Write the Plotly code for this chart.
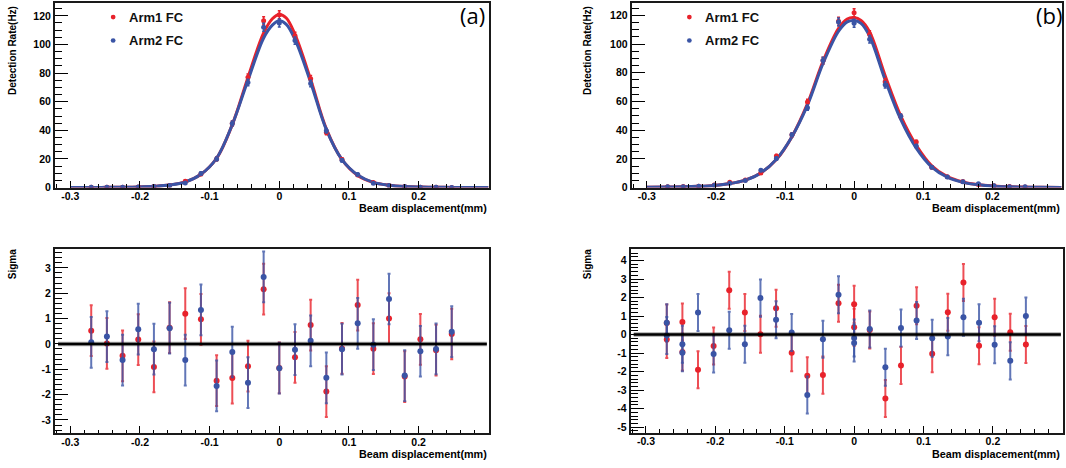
import plotly.graph_objects as go

# ---------------- data ----------------
x_pos = [-0.27, -0.2475, -0.225, -0.2025, -0.18, -0.1575, -0.135, -0.1125, -0.09, -0.0675,
         -0.045, -0.0225, 0.0, 0.0225, 0.045, 0.0675, 0.09, 0.1125, 0.135, 0.1575,
         0.18, 0.2025, 0.225, 0.2475]

# (a) detection rate
rate_a_arm1 = [0.3, 0.3, 0.3, 0.4, 0.8, 1.5, 4.4, 9.5, 20.0, 44.8, 77.0, 116.5, 120.7, 106.0,
               76.0, 38.5, 19.6, 8.8, 3.5, 1.5, 0.7, 0.3, 0.2, 0.1]
rate_a_arm2 = [0.3, 0.3, 0.3, 0.4, 0.8, 1.5, 3.2, 9.8, 20.0, 44.8, 73.4, 112.0, 115.0, 102.7,
               72.7, 39.7, 19.0, 9.2, 3.0, 1.5, 0.7, 0.3, 0.2, 0.1]
# (b) detection rate
rate_b_arm1 = [0.5, 0.7, 1.0, 1.8, 3.7, 5.3, 10.2, 22.0, 36.8, 59.7, 88.5, 116.0, 121.8, 106.8,
               73.8, 49.7, 31.7, 14.1, 7.6, 4.2, 2.2, 1.2, 0.7, 0.4]
rate_b_arm2 = [0.5, 0.6, 0.9, 1.6, 3.0, 5.0, 12.0, 20.3, 36.8, 55.7, 88.5, 115.4, 114.5, 103.4,
               71.7, 49.7, 28.9, 14.1, 7.4, 4.1, 2.6, 1.2, 0.6, 0.5]
rate_err = [0.3, 0.3, 0.3, 0.3, 0.4, 0.5, 0.8, 1.0, 1.3, 1.8, 2.3, 2.8, 2.8, 2.6,
            2.3, 1.6, 1.2, 0.8, 0.5, 0.4, 0.3, 0.3, 0.3, 0.3]

# fitted curves
fit_x = [-0.30, -0.27, -0.2475, -0.225, -0.2025, -0.18, -0.1575, -0.135, -0.1125, -0.09,
         -0.0675, -0.045, -0.0225, -0.01, 0.0, 0.01, 0.0225, 0.045, 0.0675, 0.09,
         0.1125, 0.135, 0.1575, 0.18, 0.2025, 0.225, 0.2475, 0.27, 0.30]
fit_a_arm1 = [0.05, 0.1, 0.15, 0.25, 0.45, 0.9, 1.8, 4.0, 9.3, 20.5, 44.0, 77.0, 108.0, 118.0,
              121.0, 118.5, 107.0, 75.5, 41.0, 19.5, 8.5, 3.6, 1.6, 0.7, 0.35, 0.2, 0.1, 0.05, 0.02]
fit_a_arm2 = [0.05, 0.1, 0.15, 0.25, 0.45, 0.9, 1.8, 3.9, 9.3, 20.5, 44.0, 75.0, 104.5, 113.5,
              116.5, 114.0, 103.5, 73.5, 40.5, 19.5, 8.8, 3.6, 1.6, 0.7, 0.35, 0.2, 0.1, 0.05, 0.02]
fit_b_arm1 = [0.2, 0.35, 0.5, 0.85, 1.5, 2.8, 5.2, 10.2, 19.5, 35.5, 58.5, 88.0, 111.0, 117.5,
              118.5, 116.5, 108.5, 78.0, 50.0, 29.5, 15.2, 7.6, 3.9, 2.0, 1.1, 0.6, 0.35, 0.2, 0.1]
fit_b_arm2 = [0.2, 0.35, 0.5, 0.85, 1.5, 2.8, 5.2, 10.2, 19.8, 35.5, 57.5, 86.5, 109.0, 115.5,
              116.5, 114.5, 105.5, 75.0, 47.5, 27.5, 14.3, 7.2, 3.6, 1.9, 1.0, 0.55, 0.3, 0.2, 0.1]

# (a) residuals (sigma)
sig_a_arm1 = [0.52, 0.02, -0.47, 0.17, -0.91, 0.64, 1.19, 0.97, -1.45, -1.35, -0.88, 2.16,
              -0.95, -0.53, 0.74, -1.88, -0.18, 1.53, -0.19, 1.0, -1.29, 0.18, -0.25, 0.39]
sig_a_arm2 = [0.06, 0.29, -0.64, 0.58, -0.21, 0.62, -0.64, 1.34, -1.66, -0.32, -1.53, 2.64,
              -0.96, -0.23, 0.12, -1.34, -0.21, 0.81, -0.03, 1.77, -1.25, -0.29, -0.2, 0.48]

# (b) residuals (sigma); some positions were measured twice
sig_b_x_arm1 = [-0.27, -0.27, -0.2475, -0.2475, -0.225, -0.2025, -0.18, -0.1575, -0.135, -0.1125,
                -0.09, -0.0675, -0.045, -0.0225, 0.0, 0.0, 0.0225, 0.045, 0.0675, 0.09,
                0.1125, 0.135, 0.1575, 0.18, 0.2025, 0.225, 0.2475]
sig_b_arm1 = [0.62, -0.27, 0.68, -0.94, -1.9, -0.62, 2.4, 1.19, 0.02, 1.42,
              -0.98, -2.22, -2.19, 1.69, 1.64, 0.39, 0.25, -3.45, -1.67, 1.56,
              -1.03, 1.21, 2.81, -0.6, 0.94, 0.12, -0.53]
sig_b_x_arm2 = [-0.27, -0.27, -0.2475, -0.2475, -0.225, -0.2025, -0.18, -0.1575, -0.135, -0.1125,
                -0.09, -0.0675, -0.045, -0.0225, 0.0, 0.0, 0.0225, 0.045, 0.0675, 0.09,
                0.1125, 0.135, 0.1575, 0.18, 0.2025, 0.225, 0.2475]
sig_b_arm2 = [0.64, -0.05, -0.52, -0.98, 1.19, -1.05, 0.23, -0.52, 1.97, 0.8,
              0.11, -3.27, -0.25, 2.15, -0.18, -0.46, 0.3, -1.76, 0.36, 0.76,
              -0.2, -0.11, 0.94, 0.64, -0.55, -1.42, 1.01]

x_tickvals = [-0.3, -0.2, -0.1, 0.0, 0.1, 0.2]
x_ticktext = ["-0.3", "-0.2", "-0.1", "0", "0.1", "0.2"]
rate_tickvals = [0, 20, 40, 60, 80, 100, 120]
sig_a_tickvals = [-3, -2, -1, 0, 1, 2, 3]
sig_b_tickvals = [-5, -4, -3, -2, -1, 0, 1, 2, 3, 4]

legend_names = ["Arm1 FC", "Arm2 FC"]
panel_labels = ["(a)", "(b)"]

# ---------------- style ----------------
RED = "#e8222b"
BLUE = "#3a54a5"
RED_T = "rgba(232,34,43,0.8)"
BLUE_T = "rgba(58,84,165,0.8)"
FONT = "Liberation Sans, Arial, sans-serif"

fig = go.Figure()


def add_rate(xa, ya, fx, f1, f2, d1, d2):
    fig.add_trace(go.Scatter(x=fx, y=f1, mode="lines", line=dict(color=RED, width=3, shape="spline"),
                             xaxis=xa, yaxis=ya, showlegend=False, hoverinfo="skip"))
    fig.add_trace(go.Scatter(x=fx, y=f2, mode="lines", line=dict(color=BLUE, width=3, shape="spline"),
                             xaxis=xa, yaxis=ya, showlegend=False, hoverinfo="skip"))
    fig.add_trace(go.Scatter(x=x_pos, y=d1, mode="markers", marker=dict(color=RED, size=5),
                             error_y=dict(type="data", array=rate_err, color=RED, thickness=1.5, width=1.5),
                             xaxis=xa, yaxis=ya, showlegend=False))
    fig.add_trace(go.Scatter(x=x_pos, y=d2, mode="markers", marker=dict(color=BLUE, size=5),
                             error_y=dict(type="data", array=rate_err, color=BLUE, thickness=1.5, width=1.5),
                             xaxis=xa, yaxis=ya, showlegend=False))


def add_sig(xa, ya, x1, s1, x2, s2):
    fig.add_trace(go.Scatter(x=x1, y=s1, mode="markers", marker=dict(color=RED, size=6),
                             error_y=dict(type="constant", value=1, color=RED_T, thickness=2, width=1.5),
                             xaxis=xa, yaxis=ya, showlegend=False))
    fig.add_trace(go.Scatter(x=x2, y=s2, mode="markers", marker=dict(color=BLUE, size=6),
                             error_y=dict(type="constant", value=1, color=BLUE_T, thickness=2, width=1.5),
                             xaxis=xa, yaxis=ya, showlegend=False))


add_rate("x", "y", fit_x, fit_a_arm1, fit_a_arm2, rate_a_arm1, rate_a_arm2)
add_rate("x2", "y2", fit_x, fit_b_arm1, fit_b_arm2, rate_b_arm1, rate_b_arm2)
add_sig("x3", "y3", x_pos, sig_a_arm1, x_pos, sig_a_arm2)
add_sig("x4", "y4", sig_b_x_arm1, sig_b_arm1, sig_b_x_arm2, sig_b_arm2)

tickfont = dict(family=FONT, size=10.5, color="black", weight="bold")


def xaxis_style(domain, anchor):
    return dict(domain=domain, anchor=anchor, range=[-0.322, 0.301],
                tickmode="array", tickvals=x_tickvals, ticktext=x_ticktext,
                ticks="inside", ticklen=7, tickwidth=1.2, tickcolor="black",
                ticklabelstandoff=-2,
                minor=dict(tickmode="linear", tick0=0, dtick=0.02, ticks="inside", ticklen=3.5,
                           tickwidth=1, tickcolor="black"),
                showline=True, linecolor="#1a1a1a", linewidth=2, mirror=True,
                showgrid=False, zeroline=False, tickfont=tickfont)


def yaxis_style(domain, anchor, rng, tv, minor_dtick):
    return dict(domain=domain, anchor=anchor, range=rng,
                tickmode="array", tickvals=tv, ticktext=[str(v) for v in tv],
                ticks="inside", ticklen=13, tickwidth=1.2, tickcolor="black",
                minor=dict(tickmode="linear", tick0=0, dtick=minor_dtick, ticks="inside", ticklen=7,
                           tickwidth=1, tickcolor="black"),
                showline=True, linecolor="#1a1a1a", linewidth=2, mirror=True,
                showgrid=False, zeroline=False, tickfont=tickfont)


W, H = 1066, 468
top_y = [1 - 190 / H, 1 - 3 / H]
bot_y = [1 - 439 / H, 1 - 252.3 / H]
left_x = [55 / W, 489 / W]
right_x = [631.7 / W, 1062 / W]

fig.update_layout(
    width=W, height=H, autosize=False,
    margin=dict(l=0, r=0, t=0, b=0),
    paper_bgcolor="white", plot_bgcolor="white",
    showlegend=False,
    xaxis=xaxis_style(left_x, "y"),
    yaxis=yaxis_style(top_y, "x", [0, 129], rate_tickvals, 5),
    xaxis2=xaxis_style(right_x, "y2"),
    yaxis2=yaxis_style(top_y, "x2", [0, 128.7], rate_tickvals, 5),
    xaxis3=xaxis_style(left_x, "y3"),
    yaxis3=yaxis_style(bot_y, "x3", [-3.53, 3.74], sig_a_tickvals, 0.2),
    xaxis4=xaxis_style([630.7 / W, 1063 / W], "y4"),
    yaxis4=yaxis_style([1 - 438.3 / H, 1 - 252.3 / H], "x4", [-5.3, 4.62], sig_b_tickvals, 0.2),
)

shapes = []
annotations = []
title_font = dict(family=FONT, size=10, color="black", weight="bold")
xtitle_font = dict(family=FONT, size=10.8, color="black", weight="bold")

# zero lines in residual panels
for xr, yr in [("x3", "y3"), ("x4", "y4")]:
    shapes.append(dict(type="line", xref=xr + " domain", yref=yr, x0=0.007, x1=0.995, y0=0, y1=0,
                       line=dict(color="rgba(0,0,0,0.35)", width=4.5)))
    shapes.append(dict(type="line", xref=xr + " domain", yref=yr, x0=0.007, x1=0.995, y0=0, y1=0,
                       line=dict(color="black", width=2.5)))

# legends inside top panels
for xr, yr in [("x", "y"), ("x2", "y2")]:
    for i, (name, col) in enumerate(zip(legend_names, [RED, BLUE])):
        yc = [0.9235, 0.797][i]
        shapes.append(dict(type="circle", xref=xr + " domain", yref=yr + " domain",
                           x0=0.134 - 0.0055, x1=0.134 + 0.0055, y0=yc - 0.0125, y1=yc + 0.0125,
                           fillcolor=col, line=dict(width=0)))
        annotations.append(dict(text=name, xref=xr + " domain", yref=yr + " domain", x=0.166, y=yc,
                                xanchor="left", yanchor="middle", showarrow=False,
                                font=dict(family=FONT, size=13, color="#111", weight="bold")))

# panel labels
annotations.append(dict(text=panel_labels[0], xref="paper", yref="paper", x=487 / W, y=1 - 15 / H,
                        xanchor="right", yanchor="middle", showarrow=False,
                        font=dict(family="Open Sans", size=22, color="black")))
annotations.append(dict(text=panel_labels[1], xref="paper", yref="paper", x=1064 / W, y=1 - 15 / H,
                        xanchor="right", yanchor="middle", showarrow=False,
                        font=dict(family="Open Sans", size=22, color="black")))

# axis titles
for xp in [12.5 / W, 587.5 / W]:
    annotations.append(dict(text="Detection Rate(Hz)", xref="paper", yref="paper", x=xp, y=1 - 4 / H,
                            xanchor="center", yanchor="top", textangle=-90, showarrow=False,
                            font=title_font))
    annotations.append(dict(text="Sigma", xref="paper", yref="paper", x=xp, y=1 - 251 / H,
                            xanchor="center", yanchor="top", textangle=-90, showarrow=False,
                            font=title_font))
for xp in [489 / W, 1062 / W]:
    for yp in [1 - 211 / H, 1 - 459.5 / H]:
        annotations.append(dict(text="Beam displacement(mm)", xref="paper", yref="paper", x=xp, y=yp,
                                xanchor="right", yanchor="middle", showarrow=False, font=xtitle_font))

fig.update_layout(shapes=shapes, annotations=annotations)
fig.write_html("out.html", config={"displayModeBar": False},
               post_script="document.body.style.margin='0px';document.body.style.overflow='hidden';")
